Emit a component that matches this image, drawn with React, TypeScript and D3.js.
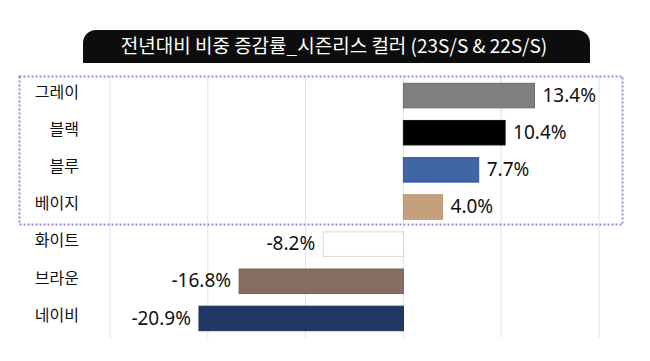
import React from "react";
import * as d3 from "d3";

const categories = ["그레이", "블랙", "블루", "베이지", "화이트", "브라운", "네이비"];
const values = [13.4, 10.4, 7.7, 4.0, -8.2, -16.8, -20.9];
const colors = ["#7f7f7f", "#000000", "#4064a4", "#c4a07b", "#ffffff", "#876c62", "#1f3864"];
const strokes = ["#6a6a6a", "#111111", "#3a5a96", "#b8946f", "#d9d9d9", "#7a6058", "#1a2f57"];
const gridTicks = [-30, -20, -10, 0, 10, 20];
const title = "전년대비 비중 증감률_시즌리스 컬러 (23S/S & 22S/S)";

export default function App() {
  const W = 650, H = 361;
  const x = d3.scaleLinear().domain([-30, 20]).range([110, 599]);
  const y = d3.scaleBand<string>().domain(categories).range([77, 337]).paddingInner(0.34).paddingOuter(0.17);
  const bw = y.bandwidth();

  // title box with rounded top corners
  const tx0 = 83, tx1 = 590, ty0 = 30, ty1 = 63, r = 13;
  const p = d3.path();
  p.moveTo(tx0, ty1);
  p.lineTo(tx0, ty0 + r);
  p.arcTo(tx0, ty0, tx0 + r, ty0, r);
  p.lineTo(tx1 - r, ty0);
  p.arcTo(tx1, ty0, tx1, ty0 + r, r);
  p.lineTo(tx1, ty1);
  p.closePath();

  const labelFont = "'Noto Sans CJK KR', 'Noto Sans', sans-serif";
  const valueFont = "'Noto Sans', 'Noto Sans CJK KR', sans-serif";

  return (
    <svg width={W} height={H} style={{ position: "absolute", left: 0, top: 0, background: "#fff" }}>
      <rect x={0} y={0} width={W} height={H} fill="#fff" />
      <path d={p.toString()} fill="#0d0d0d" />
      <text x={334} y={(ty0 + ty1) / 2 + 1} textAnchor="middle" dominantBaseline="middle"
        fill="#fff" fontSize={19} fontWeight={400} fontFamily={labelFont}>{title}</text>

      {gridTicks.map((t) => (
        <line key={t} x1={x(t)} x2={x(t)} y1={76} y2={338} stroke="#e3e3e3" strokeWidth={1} />
      ))}

      {categories.map((c, i) => {
        const v = values[i];
        const x0 = x(Math.min(0, v));
        const x1 = x(Math.max(0, v));
        const yy = y(c)!;
        const cy = yy + bw / 2;
        return (
          <g key={c}>
            <rect x={x0} y={yy} width={x1 - x0} height={bw} fill={colors[i]} stroke={strokes[i]} strokeWidth={1} />
            <text x={v >= 0 ? x1 + 8 : x0 - 8} y={cy + 1} textAnchor={v >= 0 ? "start" : "end"}
              dominantBaseline="middle" fontSize={19} fill="#111" fontFamily={valueFont}>
              {v.toFixed(1) + "%"}
            </text>
            <text x={79} y={cy - 2} textAnchor="end" dominantBaseline="middle" fontSize={16}
              fill="#111" fontFamily={labelFont}>{c}</text>
          </g>
        );
      })}

      <rect x={19.5} y={76.5} width={603} height={148} fill="none" stroke="#9b86e0" strokeWidth={2}
        strokeDasharray="2,2" />
    </svg>
  );
}
